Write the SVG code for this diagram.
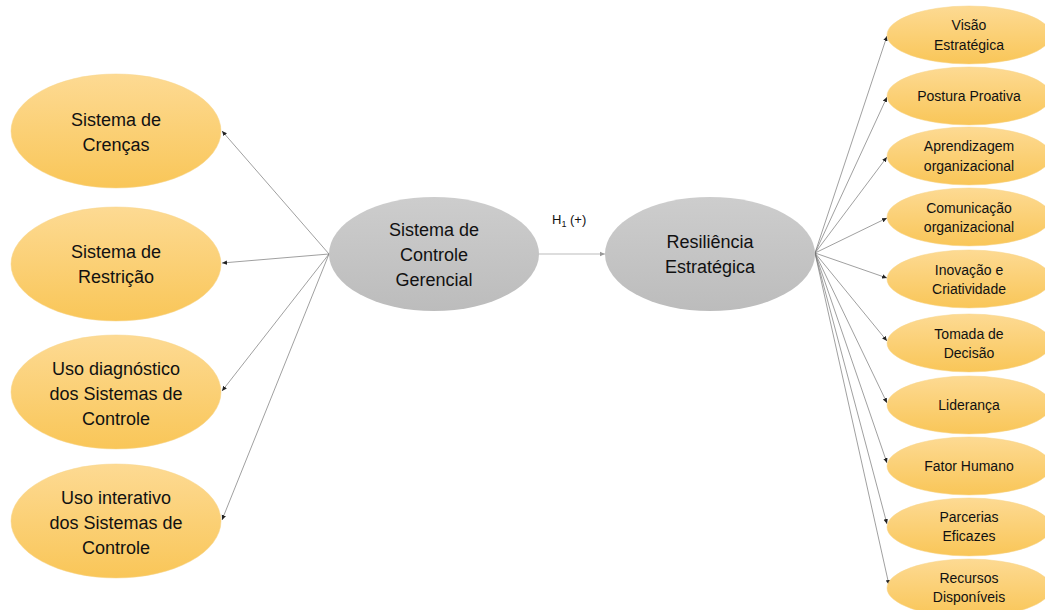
<svg xmlns="http://www.w3.org/2000/svg" width="1045" height="610" viewBox="0 0 1045 610">
<defs>
<linearGradient id="gy" x1="0" y1="0" x2="0" y2="1">
<stop offset="0" stop-color="#fdda93"/>
<stop offset="1" stop-color="#f9c658"/>
</linearGradient>
<linearGradient id="gg" x1="0" y1="0" x2="0" y2="1">
<stop offset="0" stop-color="#cdcdcd"/>
<stop offset="1" stop-color="#bcbcbc"/>
</linearGradient>
<marker id="ah" markerWidth="6" markerHeight="6" refX="5" refY="3" orient="auto" markerUnits="userSpaceOnUse">
<path d="M0,0.8 L5,3 L0,5.2 Z" fill="#222"/>
</marker>
<marker id="ahg" markerWidth="6" markerHeight="6" refX="5" refY="3" orient="auto" markerUnits="userSpaceOnUse">
<path d="M0,0.8 L5,3 L0,5.2 Z" fill="#999"/>
</marker>
</defs>
<style>
.y{fill:url(#gy);stroke:#f7d48a;stroke-width:0.5}
.g{fill:url(#gg);stroke:none}
.t{font-family:"Liberation Sans",Arial,sans-serif;font-size:18px;fill:#111;text-anchor:middle}
.s{font-family:"Liberation Sans",Arial,sans-serif;font-size:14px;fill:#111;text-anchor:middle}
.c{stroke:#777;stroke-width:0.7;fill:none;marker-end:url(#ah)}
.h{stroke:#bbb;stroke-width:1;fill:none;marker-end:url(#ahg)}
.lbl{font-family:"Liberation Sans",Arial,sans-serif;font-size:13px;fill:#111}
</style>
<g id="connectors">
<line class="c" x1="329" y1="254" x2="222" y2="131"/>
<line class="c" x1="329" y1="254" x2="222" y2="263"/>
<line class="c" x1="329" y1="254" x2="222" y2="391"/>
<line class="c" x1="329" y1="254" x2="222" y2="520"/>
<line class="h" x1="539" y1="254" x2="605" y2="254"/>
<line class="c" x1="815" y1="253" x2="887" y2="36"/>
<line class="c" x1="815" y1="253" x2="887" y2="97"/>
<line class="c" x1="815" y1="253" x2="887" y2="157"/>
<line class="c" x1="815" y1="253" x2="887" y2="218"/>
<line class="c" x1="815" y1="253" x2="887" y2="278"/>
<line class="c" x1="815" y1="253" x2="887" y2="341"/>
<line class="c" x1="815" y1="253" x2="887" y2="403"/>
<line class="c" x1="815" y1="253" x2="887" y2="463"/>
<line class="c" x1="815" y1="253" x2="887" y2="524"/>
<line class="c" x1="815" y1="253" x2="889" y2="585"/>
<text class="lbl" x="552" y="224">H<tspan font-size="9" dy="3">1</tspan><tspan dy="-3"> (+)</tspan></text>
</g>
<g id="n-crencas"><ellipse class="y" cx="116" cy="131" rx="105" ry="57"/><text class="t" x="116" y="126">Sistema de</text><text class="t" x="116" y="151">Crenças</text></g>
<g id="n-restricao"><ellipse class="y" cx="116" cy="264" rx="105" ry="57"/><text class="t" x="116" y="258">Sistema de</text><text class="t" x="116" y="283">Restrição</text></g>
<g id="n-diagnostico"><ellipse class="y" cx="116" cy="392" rx="105" ry="57"/><text class="t" x="116" y="375">Uso diagnóstico</text><text class="t" x="116" y="400">dos Sistemas de</text><text class="t" x="116" y="425">Controle</text></g>
<g id="n-interativo"><ellipse class="y" cx="116" cy="521" rx="105" ry="57"/><text class="t" x="116" y="504">Uso interativo</text><text class="t" x="116" y="529">dos Sistemas de</text><text class="t" x="116" y="554">Controle</text></g>
<g id="n-scg"><ellipse class="g" cx="434" cy="254" rx="105" ry="57"/><text class="t" x="434" y="236">Sistema de</text><text class="t" x="434" y="261">Controle</text><text class="t" x="434" y="286">Gerencial</text></g>
<g id="n-re"><ellipse class="g" cx="710" cy="254" rx="105" ry="57"/><text class="t" x="710" y="248">Resiliência</text><text class="t" x="710" y="273">Estratégica</text></g>
<g id="n-visao"><ellipse class="y" cx="969" cy="35" rx="82" ry="29"/><text class="s" x="969" y="30">Visão</text><text class="s" x="969" y="50">Estratégica</text></g>
<g id="n-postura"><ellipse class="y" cx="969" cy="96" rx="82" ry="29"/><text class="s" x="969" y="101">Postura Proativa</text></g>
<g id="n-aprendizagem"><ellipse class="y" cx="969" cy="156" rx="82" ry="29"/><text class="s" x="969" y="151">Aprendizagem</text><text class="s" x="969" y="171">organizacional</text></g>
<g id="n-comunicacao"><ellipse class="y" cx="969" cy="217" rx="82" ry="29"/><text class="s" x="969" y="213">Comunicação</text><text class="s" x="969" y="232">organizacional</text></g>
<g id="n-inovacao"><ellipse class="y" cx="969" cy="279" rx="82" ry="29"/><text class="s" x="969" y="275">Inovação e</text><text class="s" x="969" y="294">Criatividade</text></g>
<g id="n-tomada"><ellipse class="y" cx="969" cy="343" rx="82" ry="29"/><text class="s" x="969" y="339">Tomada de</text><text class="s" x="969" y="358">Decisão</text></g>
<g id="n-lideranca"><ellipse class="y" cx="969" cy="405" rx="82" ry="29"/><text class="s" x="969" y="410">Liderança</text></g>
<g id="n-fator"><ellipse class="y" cx="969" cy="466" rx="82" ry="29"/><text class="s" x="969" y="471">Fator Humano</text></g>
<g id="n-parcerias"><ellipse class="y" cx="969" cy="527" rx="82" ry="29"/><text class="s" x="969" y="522">Parcerias</text><text class="s" x="969" y="541">Eficazes</text></g>
<g id="n-recursos"><ellipse class="y" cx="969" cy="588" rx="82" ry="29"/><text class="s" x="969" y="583">Recursos</text><text class="s" x="969" y="602">Disponíveis</text></g>
</svg>
